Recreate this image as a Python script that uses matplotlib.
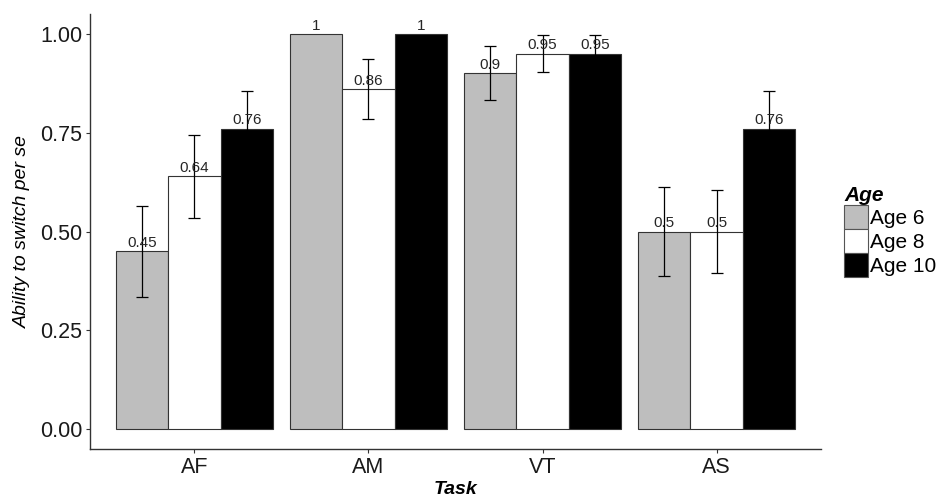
import numpy as np
import matplotlib
matplotlib.use("Agg")
import matplotlib.pyplot as plt
from matplotlib.patches import Patch

plt.rcParams['font.family'] = ['Liberation Sans', 'DejaVu Sans']

# Proportion of children able to switch, by task and age group
tasks = ["AF", "AM", "VT", "AS"]
ages = ["Age 6", "Age 8", "Age 10"]
age6 = [0.45, 1.00, 0.90, 0.50]
age8 = [0.64, 0.86, 0.95, 0.50]
age10 = [0.76, 1.00, 0.95, 0.76]
se6 = [0.115, 0.0, 0.068, 0.113]
se8 = [0.105, 0.075, 0.046, 0.106]
se10 = [0.095, 0.0, 0.046, 0.095]

colors = ["#bebebe", "#ffffff", "#000000"]

fig = plt.figure(figsize=(9.43, 5.03), dpi=100)
ax = fig.add_axes([90 / 943, 54 / 503, 731 / 943, 435 / 503])

x = np.arange(len(tasks))
width = 0.3
offsets = [-width, 0, width]

for vals, errs, col, off, lab in zip([age6, age8, age10], [se6, se8, se10], colors, offsets, ages):
    pos = x + off
    ax.bar(pos, vals, width=width, color=col, edgecolor="#333333", linewidth=0.8, label=lab, zorder=2)
    # error bars only where there is spread
    v = np.array(vals)
    e = np.array(errs)
    keep = e > 0
    ax.errorbar(pos[keep], v[keep], yerr=e[keep], fmt="none", ecolor="black",
                elinewidth=0.9, capsize=4, capthick=0.9, zorder=3)
    for px, val in zip(pos, vals):
        ax.text(px, val + 0.003, f"{val:g}", ha="center", va="bottom",
                fontsize=11, color="#262626", zorder=4)

ax.set_xlim(-0.6, 3.6)
ax.set_ylim(-0.05, 1.05)
ax.set_xticks(x)
ax.set_xticklabels(tasks)
ax.set_yticks([0, 0.25, 0.5, 0.75, 1.0])
ax.set_yticklabels(["0.00", "0.25", "0.50", "0.75", "1.00"])

for side in ["top", "right"]:
    ax.spines[side].set_visible(False)
for side in ["left", "bottom"]:
    ax.spines[side].set_color("#333333")
    ax.spines[side].set_linewidth(1.0)

ax.tick_params(axis="both", labelsize=15.5, colors="#333333", labelcolor="#1a1a1a",
               length=3, width=0.8, pad=2.5)

ax.set_xlabel("Task", fontsize=14, fontweight="bold", fontstyle="italic", va="center")
ax.set_ylabel("Ability to switch per se", fontsize=14, fontstyle="italic", va="center")
ax.xaxis.set_label_coords(0.5, -0.094)
ax.yaxis.set_label_coords(-0.093, 0.5)

handles = [Patch(facecolor=c, edgecolor="#555555", linewidth=0.8) for c in colors]
leg = fig.legend(handles, ages, title="Age", loc="upper left",
                 bbox_to_anchor=(844 / 943, 1 - 186 / 503), frameon=False,
                 fontsize=15, handlelength=1.15, handleheight=1.4,
                 handletextpad=0.1, labelspacing=0.0, borderpad=0, borderaxespad=0)
leg.get_title().set_fontweight("bold")
leg.get_title().set_fontstyle("italic")
leg.get_title().set_fontsize(15)
leg._legend_box.align = "left"

fig.savefig("out.png", dpi=100)
